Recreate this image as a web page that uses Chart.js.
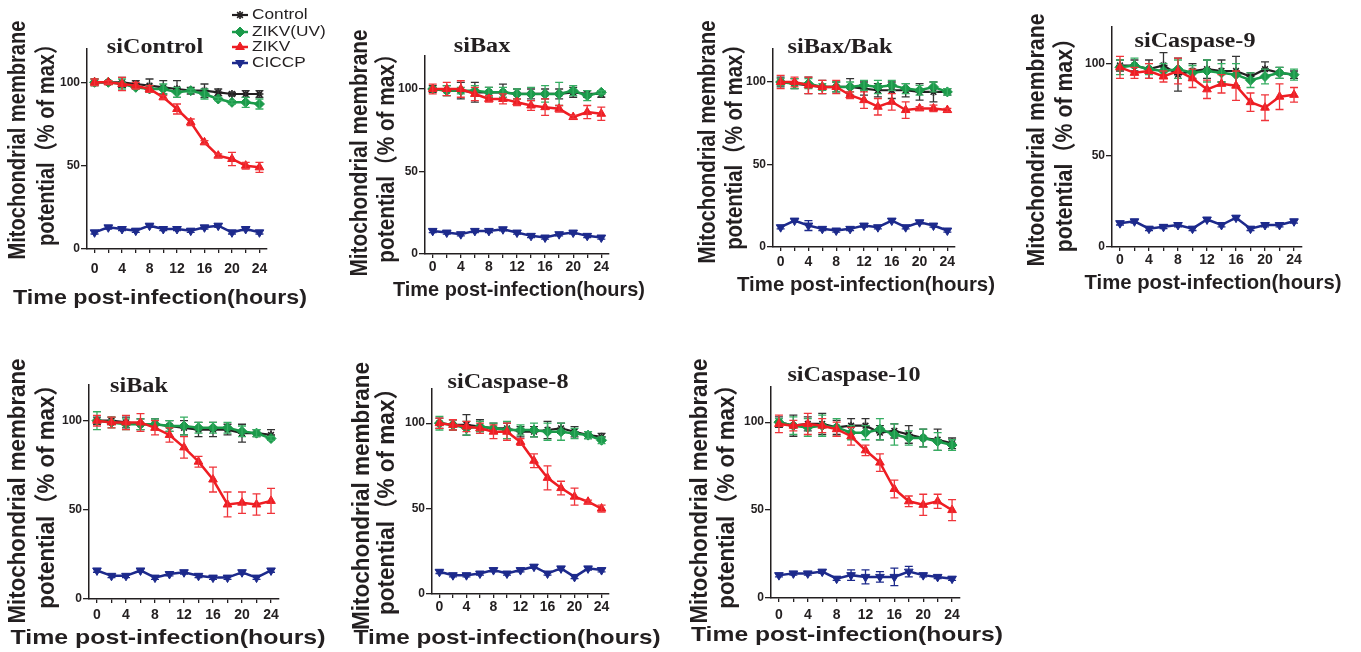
<!DOCTYPE html>
<html>
<head>
<meta charset="utf-8">
<script src="https://cdn.jsdelivr.net/npm/chart.js@4.4.0/dist/chart.umd.min.js"></script>
<style>
body { margin: 0; background: #fff; width: 1361px; height: 652px; position: relative; overflow: hidden; }
canvas { position: absolute; }
</style>
</head>
<body>
<script>
// ---- data ----
const HOURS = [0, 2, 4, 6, 8, 10, 12, 14, 16, 18, 20, 22, 24];
const X_TICKS = [0, 2, 4, 6, 8, 10, 12, 14, 16, 18, 20, 22, 24];
const Y_TICKS = [0, 50, 100];
const SERIES_LABELS = ['Control', 'ZIKV(UV)', 'ZIKV', 'CICCP'];
const PANEL_NAMES = ['siControl', 'siBax', 'siBax/Bak', 'siCaspase-9', 'siBak', 'siCaspase-8', 'siCaspase-10'];

// siControl
const siCtlCtrl = [100, 100, 100, 99, 98, 97, 96, 95, 95, 94, 93, 93, 93];
const siCtlCtrlErr = [2, 1, 3, 2, 4, 4, 5, 2, 4, 2, 1, 2, 2];
const siCtlUv = [100, 100, 99, 97, 96, 96, 94, 95, 93, 90, 88, 88, 87];
const siCtlUvErr = [2, 1, 3, 1, 2, 3, 3, 1, 3, 1, 1, 3, 3];
const siCtlZikv = [100, 100, 99, 98, 96, 91, 84, 76, 64, 56, 54, 50, 49];
const siCtlZikvErr = [2, 1, 4, 2, 2, 1, 3, 2, 1, 1, 4, 2, 3];
const siCtlCccp = [10, 13, 12, 11, 14, 12, 12, 11, 13, 14, 10, 12, 10];
const siCtlCccpErr = [1, 1, 1, 1, 1, 1, 1, 1, 1, 1, 1, 1, 1];

// siBax
const siBaxCtrl = [100, 99, 99, 98, 98, 98, 97, 97, 97, 97, 98, 97, 97];
const siBaxCtrlErr = [2, 3, 5, 6, 3, 5, 3, 3, 3, 3, 3, 2, 2];
const siBaxUv = [100, 99, 99, 99, 98, 98, 97, 97, 97, 97, 99, 96, 98];
const siBaxUvErr = [1, 3, 2, 3, 3, 3, 3, 4, 5, 7, 3, 3, 1];
const siBaxZikv = [100, 100, 100, 97, 94, 94, 92, 90, 89, 88, 83, 86, 85];
const siBaxZikvErr = [3, 4, 5, 4, 2, 3, 2, 3, 5, 2, 1, 4, 4];
const siBaxCccp = [14, 13, 12, 14, 14, 15, 13, 11, 10, 12, 13, 11, 10];
const siBaxCccpErr = [1, 1, 1, 1, 1, 1, 1, 1, 1, 1, 1, 1, 1];

// siBax/Bak
const siBaxBakCtrl = [100, 99, 98, 97, 97, 97, 96, 95, 95, 95, 94, 94, 94];
const siBaxBakCtrlErr = [3, 3, 5, 4, 3, 5, 4, 4, 5, 4, 5, 6, 2];
const siBaxBakUv = [100, 99, 99, 97, 97, 97, 98, 97, 98, 96, 95, 97, 94];
const siBaxBakUvErr = [2, 3, 3, 2, 3, 3, 3, 4, 3, 3, 3, 3, 2];
const siBaxBakZikv = [100, 100, 98, 97, 97, 92, 89, 85, 88, 83, 84, 84, 83];
const siBaxBakZikvErr = [4, 3, 5, 4, 4, 2, 5, 5, 5, 5, 1, 2, 1];
const siBaxBakCccp = [12, 16, 13, 11, 10, 11, 13, 12, 16, 12, 15, 13, 10];
const siBaxBakCccpErr = [1, 1, 3, 1, 1, 1, 1, 1, 1, 1, 1, 1, 1];

// siCaspase-9
const siCasp9Ctrl = [99, 99, 97, 99, 94, 96, 97, 96, 96, 93, 97, 95, 94];
const siCasp9CtrlErr = [3, 3, 5, 7, 9, 4, 5, 6, 8, 2, 4, 3, 2];
const siCasp9Uv = [98, 99, 97, 96, 97, 95, 96, 95, 94, 91, 93, 95, 94];
const siCasp9UvErr = [4, 4, 3, 4, 5, 4, 6, 5, 6, 4, 4, 3, 3];
const siCasp9Zikv = [98, 95, 96, 93, 96, 92, 86, 89, 88, 79, 76, 82, 83];
const siCasp9ZikvErr = [6, 3, 4, 3, 7, 5, 5, 5, 8, 5, 7, 7, 4];
const siCasp9Cccp = [13, 14, 10, 11, 12, 10, 15, 12, 16, 10, 12, 12, 14];
const siCasp9CccpErr = [1, 1, 1, 1, 1, 1, 1, 1, 1, 1, 1, 1, 1];

// siBak
const siBakCtrl = [100, 100, 99, 98, 98, 97, 96, 95, 95, 95, 93, 93, 92];
const siBakCtrlErr = [2, 2, 3, 3, 3, 3, 4, 4, 4, 3, 5, 2, 3];
const siBakUv = [100, 99, 98, 98, 98, 97, 97, 96, 96, 96, 94, 93, 90];
const siBakUvErr = [5, 3, 3, 3, 3, 3, 5, 3, 3, 3, 3, 2, 1];
const siBakZikv = [100, 99, 99, 99, 96, 92, 85, 77, 67, 53, 54, 53, 55];
const siBakZikvErr = [3, 3, 4, 5, 4, 4, 6, 3, 7, 7, 6, 6, 7];
const siBakCccp = [16, 13, 13, 16, 12, 14, 15, 13, 12, 12, 15, 12, 16];
const siBakCccpErr = [1, 1, 1, 1, 1, 1, 1, 1, 1, 1, 1, 1, 1];

// siCaspase-8
const siCasp8Ctrl = [100, 99, 99, 98, 97, 97, 95, 95, 96, 97, 95, 93, 92];
const siCasp8CtrlErr = [3, 3, 6, 4, 3, 3, 3, 3, 5, 3, 3, 2, 2];
const siCasp8Uv = [100, 99, 97, 98, 97, 96, 96, 96, 95, 95, 94, 93, 90];
const siCasp8UvErr = [4, 3, 4, 3, 3, 5, 3, 4, 5, 5, 3, 2, 2];
const siCasp8Zikv = [100, 99, 98, 97, 95, 95, 89, 78, 68, 62, 57, 54, 50];
const siCasp8ZikvErr = [3, 3, 3, 3, 4, 5, 2, 4, 7, 4, 5, 1, 2];
const siCasp8Cccp = [13, 11, 11, 12, 14, 12, 14, 16, 12, 15, 10, 15, 14];
const siCasp8CccpErr = [1, 1, 1, 1, 1, 1, 1, 1, 1, 1, 1, 1, 1];

// siCaspase-10
const siCasp10Ctrl = [100, 98, 99, 99, 97, 98, 98, 94, 95, 93, 91, 90, 88];
const siCasp10CtrlErr = [3, 6, 4, 6, 4, 4, 4, 4, 4, 5, 5, 6, 3];
const siCasp10Uv = [100, 98, 97, 98, 97, 94, 94, 96, 93, 91, 91, 89, 87];
const siCasp10UvErr = [2, 5, 5, 6, 5, 4, 4, 6, 6, 4, 5, 5, 3];
const siCasp10Zikv = [99, 98, 99, 98, 96, 92, 84, 77, 62, 55, 53, 55, 50];
const siCasp10ZikvErr = [5, 3, 6, 4, 4, 5, 3, 5, 5, 3, 6, 4, 6];
const siCasp10Cccp = [13, 14, 14, 15, 11, 13, 12, 12, 12, 15, 13, 12, 11];
const siCasp10CccpErr = [1, 1, 1, 1, 1, 3, 4, 3, 5, 3, 1, 1, 1];

// ---- styles ----
const INK = '#231f20';
const SERIES_STYLE = [
    { color: '#231f20', errColor: '#333333', pointStyle: 'star', rotation: 0, radius: 4, pointBorder: 1.6, lineWidth: 2.2, order: 3 },
    { color: '#1b9a4a', errColor: '#36ad62', pointStyle: 'rectRot', rotation: 0, radius: 5, pointBorder: 1, lineWidth: 2.5, order: 2 },
    { color: '#ee1d23', errColor: '#f0343a', pointStyle: 'triangle', rotation: 0, radius: 5, pointBorder: 1, lineWidth: 2.5, order: 1 },
    { color: '#1d2a8c', errColor: '#1d2a8c', pointStyle: 'triangle', rotation: 180, radius: 5, pointBorder: 1, lineWidth: 2.5, order: 4 }
];

// layout of each panel on the page (cell = canvas box, plot = axes box)
const PANELS = [
    { cell: [0, 0, 345, 330], plot: [87, 49, 267, 249], title: [155, 53], xTitle: [160, 298, 294], yTitle: [18, 47, 140, 239], gap: 20, legend: true,
      series: [[siCtlCtrl, siCtlCtrlErr], [siCtlUv, siCtlUvErr], [siCtlZikv, siCtlZikvErr], [siCtlCccp, siCtlCccpErr]] },
    { cell: [345, 0, 345, 330], plot: [425, 56, 609, 254], title: [482, 52], xTitle: [519, 290, 252], yTitle: [360, 387, 153, 247], gap: 13,
      series: [[siBaxCtrl, siBaxCtrlErr], [siBaxUv, siBaxUvErr], [siBaxZikv, siBaxZikvErr], [siBaxCccp, siBaxCccpErr]] },
    { cell: [690, 0, 330, 330], plot: [773, 49, 955, 247], title: [840, 53], xTitle: [866, 285, 258], yTitle: [708, 735, 142, 243], gap: 15,
      series: [[siBaxBakCtrl, siBaxBakCtrlErr], [siBaxBakUv, siBaxBakUvErr], [siBaxBakZikv, siBaxBakZikvErr], [siBaxBakCccp, siBaxBakCccpErr]] },
    { cell: [1020, 0, 341, 330], plot: [1112, 27, 1302, 247], title: [1195, 47], xTitle: [1213, 283, 257], yTitle: [1037, 1065, 140, 253], gap: 13,
      series: [[siCasp9Ctrl, siCasp9CtrlErr], [siCasp9Uv, siCasp9UvErr], [siCasp9Zikv, siCasp9ZikvErr], [siCasp9Cccp, siCasp9CccpErr]] },
    { cell: [0, 330, 345, 322], plot: [89, 385, 279, 599], title: [139, 392], xTitle: [168, 638, 315], yTitle: [18, 47, 491, 265], gap: 16,
      series: [[siBakCtrl, siBakCtrlErr], [siBakUv, siBakUvErr], [siBakZikv, siBakZikvErr], [siBakCccp, siBakCccpErr]] },
    { cell: [345, 330, 340, 322], plot: [432, 389, 609, 594], title: [508, 388], xTitle: [507, 638, 307], yTitle: [362, 387, 496, 268], gap: 13,
      series: [[siCasp8Ctrl, siCasp8CtrlErr], [siCasp8Uv, siCasp8UvErr], [siCasp8Zikv, siCasp8ZikvErr], [siCasp8Cccp, siCasp8CccpErr]] },
    { cell: [685, 330, 340, 322], plot: [771, 387, 960, 598], title: [854, 381], xTitle: [847, 635, 312], yTitle: [700, 727, 491, 265], gap: 17,
      series: [[siCasp10Ctrl, siCasp10CtrlErr], [siCasp10Uv, siCasp10UvErr], [siCasp10Zikv, siCasp10ZikvErr], [siCasp10Cccp, siCasp10CccpErr]] }
];

Chart.defaults.font.family = '"Liberation Sans", Arial, sans-serif';
Chart.defaults.color = INK;

const SANS = '"Liberation Sans", Arial, "Noto Sans CJK SC", sans-serif';
const SERIF = '"Liberation Serif", "Times New Roman", serif';

function drawText(ctx, text, x, y, font, sx, rotate, baseline) {
    ctx.save();
    ctx.font = font;
    ctx.textAlign = 'center';
    ctx.textBaseline = baseline || 'middle';
    ctx.translate(x, y);
    if (rotate) ctx.rotate(-Math.PI / 2);
    ctx.scale(sx, 1);
    ctx.fillText(text, 0, 0);
    ctx.restore();
}

function textWidth(ctx, text, font) {
    ctx.save();
    ctx.font = font;
    const w = ctx.measureText(text).width;
    ctx.restore();
    return w;
}

// error bars, drawn right after each dataset
const errorBars = {
    id: 'errorBars',
    afterDatasetDraw(chart, args) {
        const ds = chart.data.datasets[args.index];
        if (!ds.errors) return;
        const ys = chart.scales.y;
        const ctx = chart.ctx;
        ctx.save();
        ctx.strokeStyle = ds.errorColor;
        ctx.lineWidth = 1.3;
        args.meta.data.forEach((pt, i) => {
            const e = ds.errors[i];
            const v = ds.data[i].y;
            const hi = ys.getPixelForValue(v + e);
            const lo = ys.getPixelForValue(v - e);
            ctx.beginPath();
            ctx.moveTo(pt.x, hi); ctx.lineTo(pt.x, lo);
            ctx.moveTo(pt.x - 4, hi); ctx.lineTo(pt.x + 4, hi);
            ctx.moveTo(pt.x - 4, lo); ctx.lineTo(pt.x + 4, lo);
            ctx.stroke();
        });
        ctx.restore();
    }
};

function panelText(p, name) {
    return {
        id: 'panelText',
        afterDraw(chart) {
            const ctx = chart.ctx;
            const ox = p.cell[0], oy = p.cell[1];
            ctx.save();
            ctx.fillStyle = INK;

            // panel title
            drawText(ctx, name, p.title[0] - ox, p.title[1] - oy, 'bold 22px ' + SERIF, 1.1, false, 'alphabetic');

            // x title
            const xFont = 'bold 21px ' + SANS;
            const xText = 'Time post-infection(hours)';
            drawText(ctx, xText, p.xTitle[0] - ox, p.xTitle[1] - oy, xFont, p.xTitle[2] / textWidth(ctx, xText, xFont), false);

            // y title, two rotated lines
            const yFont = 'bold 24px ' + SANS;
            const l1 = 'Mitochondrial membrane', l2 = 'potential（% of max）';
            const sy = p.yTitle[3] / textWidth(ctx, l1, yFont);
            drawText(ctx, l1, p.yTitle[0] - ox, p.yTitle[2] - oy, yFont, sy, true);
            drawText(ctx, l2, p.yTitle[1] - ox, p.yTitle[2] - oy, yFont, sy, true);

            // legend (first panel only)
            if (p.legend) {
                const lx = 240 - ox, rows = [15, 32, 47, 63];
                chart.data.datasets.forEach((ds, i) => {
                    const st = SERIES_STYLE[i];
                    const y = rows[i] - oy;
                    ctx.strokeStyle = st.color;
                    ctx.fillStyle = st.color;
                    ctx.lineWidth = st.lineWidth;
                    ctx.beginPath();
                    ctx.moveTo(lx - 8, y); ctx.lineTo(lx + 8, y);
                    ctx.stroke();
                    ctx.lineWidth = st.pointBorder;
                    Chart.helpers.drawPoint(ctx, { pointStyle: st.pointStyle, rotation: st.rotation, radius: st.radius, borderWidth: st.pointBorder }, lx, y);
                    ctx.fillStyle = INK;
                    ctx.save();
                    ctx.font = '15px ' + SANS;
                    ctx.textAlign = 'left';
                    ctx.textBaseline = 'middle';
                    ctx.translate(252 - ox, y);
                    ctx.scale(1.15, 1);
                    ctx.fillText(ds.label, 0, 0);
                    ctx.restore();
                });
            }
            ctx.restore();
        }
    };
}

function makeDataset(i, mean, err) {
    const st = SERIES_STYLE[i];
    return {
        label: SERIES_LABELS[i],
        data: HOURS.map((h, k) => ({ x: h, y: mean[k] })),
        errors: err,
        errorColor: st.errColor,
        borderColor: st.color,
        backgroundColor: st.color,
        borderWidth: st.lineWidth,
        pointStyle: st.pointStyle,
        pointRotation: st.rotation,
        pointRadius: st.radius,
        pointBorderWidth: st.pointBorder,
        pointBackgroundColor: st.color,
        pointBorderColor: st.color,
        tension: 0,
        fill: false,
        order: st.order
    };
}

PANELS.forEach((p, n) => {
    const [cx, cy, cw, ch] = p.cell;
    const [pl, pt, pr, pb] = p.plot;
    const canvas = document.createElement('canvas');
    canvas.width = cw;
    canvas.height = ch;
    canvas.style.left = cx + 'px';
    canvas.style.top = cy + 'px';
    document.body.appendChild(canvas);

    new Chart(canvas, {
        type: 'line',
        data: { datasets: p.series.map((s, i) => makeDataset(i, s[0], s[1])) },
        options: {
            responsive: false,
            animation: false,
            events: [],
            layout: { padding: { left: 0, top: pt - cy, right: cx + cw - pr, bottom: 0 } },
            plugins: { legend: { display: false }, tooltip: { enabled: false } },
            scales: {
                x: {
                    type: 'linear',
                    min: -1.1,
                    max: 25.1,
                    afterBuildTicks: (s) => { s.ticks = X_TICKS.map(v => ({ value: v })); },
                    afterFit: (s) => { s.height = cy + ch - pb; },
                    border: { display: true, color: INK, width: 1.5 },
                    grid: { drawOnChartArea: false, drawTicks: true, tickLength: 4, color: INK, lineWidth: 1.3 },
                    ticks: {
                        autoSkip: false,
                        maxRotation: 0,
                        padding: Math.max(0, p.gap - 12.4),
                        color: INK,
                        font: { size: 14, weight: 'bold' },
                        callback: (v) => (v % 4 === 0 ? v : '')
                    }
                },
                y: {
                    min: 0,
                    max: 120,
                    afterBuildTicks: (s) => { s.ticks = Y_TICKS.map(v => ({ value: v })); },
                    afterFit: (s) => { s.width = pl - cx; },
                    border: { display: true, color: INK, width: 1.5 },
                    grid: { drawOnChartArea: false, drawTicks: true, tickLength: 6, color: INK, lineWidth: 1.3 },
                    ticks: { padding: 1, color: INK, font: { size: 12, weight: 'bold' } }
                }
            }
        },
        plugins: [errorBars, panelText(p, PANEL_NAMES[n])]
    });
});
</script>
</body>
</html>
